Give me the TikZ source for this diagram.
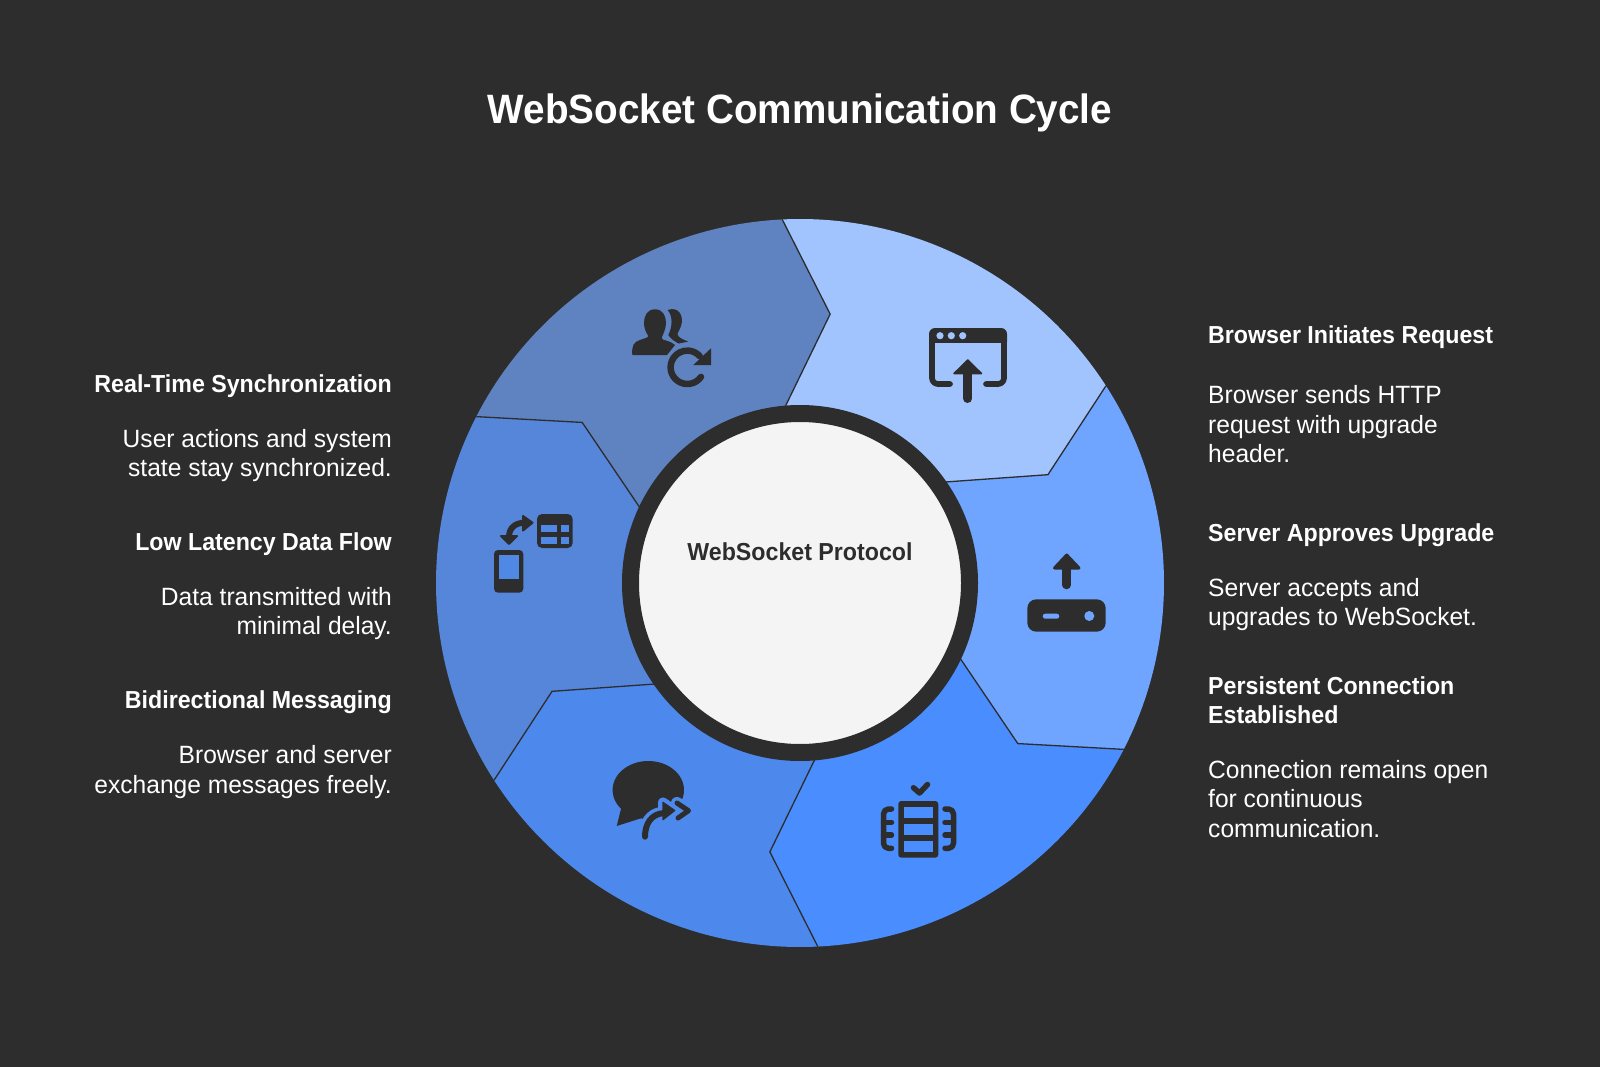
\documentclass[tikz,border=0pt]{standalone}
\usepackage{fontspec}
\setmainfont[FakeStretch=0.983,BoldFeatures={FakeStretch=0.943}]{Liberation Sans}
\definecolor{bgdark}{HTML}{2D2D2D}
\definecolor{segA}{HTML}{A1C4FF}
\definecolor{segB}{HTML}{70A5FF}
\definecolor{segC}{HTML}{4A8DFF}
\definecolor{segD}{HTML}{4D89EC}
\definecolor{segE}{HTML}{5586DA}
\definecolor{segF}{HTML}{5E83C0}
\definecolor{hubfill}{HTML}{F4F4F4}
\tikzset{
  titletext/.style={text=white,font=\fontsize{41}{48}\selectfont\bfseries,inner sep=0pt},
  headR/.style={text=white,font=\fontsize{24.6}{29.5}\selectfont\bfseries,align=left,anchor=west,inner sep=0pt},
  bodyR/.style={text=white,font=\fontsize{25}{29.5}\selectfont,align=left,anchor=west,inner sep=0pt},
  headL/.style={text=white,font=\fontsize{24.6}{29.5}\selectfont\bfseries,align=right,anchor=east,inner sep=0pt},
  bodyL/.style={text=white,font=\fontsize{25}{29.5}\selectfont,align=right,anchor=east,inner sep=0pt},
  ink/.style={fill=bgdark,draw=bgdark,line join=round,line cap=round},
  inkline/.style={draw=bgdark,line join=round,line cap=round},
}
\begin{document}
\begin{tikzpicture}[x=1pt,y=-1pt]
\path[fill=bgdark,use as bounding box] (0,0) rectangle (1600,1067);
\node[titletext] (title) at (800,113) {WebSocket Communication Cycle};
% ring segments
\begin{scope}[shift={(800,583)}]
\foreach \a/\c in {267.2/segA,327.2/segB,27.2/segC,87.2/segD,147.2/segE,207.2/segF}{
  \pgfmathsetmacro{\b}{\a+60}
  \pgfmathsetmacro{\am}{\a+9.2}
  \pgfmathsetmacro{\bm}{\b+9.2}
  \pgfmathsetmacro{\ai}{\a-2}
  \pgfmathsetmacro{\bi}{\b-2}
  \fill[\c] (\a:364) arc[start angle=\a,end angle=\b,radius=364] -- (\bm:270.6) -- (\bi:177) -- (\ai:177) -- (\am:270.6) -- cycle;
}
\foreach \a in {267.2,327.2,27.2,87.2,147.2,207.2}{
  \pgfmathsetmacro{\am}{\a+9.2}
  \pgfmathsetmacro{\ai}{\a-2}
  \draw[bgdark,line width=1.3,line join=miter] (\a:364) -- (\am:270.6) -- (\ai:177);
}
\end{scope}
% hub
\node[circle,draw=bgdark,fill=hubfill,line width=17,minimum size=339,inner sep=0pt] (hub) at (800,583) {};
\node[text=bgdark,font=\fontsize{24.6}{29}\selectfont\bfseries,inner sep=0pt] (hublabel) at (800,552) {WebSocket Protocol};
% icon 1: browser with upload arrow
\fill[bgdark,rounded corners=6] (929,328) rectangle (1007,348);
\fill[segA] (934.7,343) rectangle (1001.3,352);
\foreach \x in {940,951.3,962.7}{\fill[segA] (\x,335.7) circle (3.6);}
\draw[inkline,line width=5.7,rounded corners=6] (950,384) -- (932,384) -- (932,334);
\draw[inkline,line width=5.7,rounded corners=6] (986,384) -- (1004,384) -- (1004,334);
\draw[ink,line width=1.5] (967.7,360) -- (981.5,373.5) -- (954,373.5) -- cycle;
\draw[inkline,line width=9] (967.7,372) -- (967.7,398.5);
% icon 2: users with refresh
\fill[bgdark] (667.5,310) .. controls (679,306) and (683,316) .. (681.7,323) .. controls (681,328) and (678,332) .. (677.5,334) .. controls (678,338) and (683,339) .. (688,341.7) -- (678.5,343.5) .. controls (674,341) and (671,339) .. (668.3,335) .. controls (672,328) and (673.5,316) .. (667.5,310) -- cycle;
\fill[bgdark] (655,309.3) .. controls (663,309.3) and (666,316) .. (666,323) .. controls (666,330) and (662,336) .. (661.7,338) .. controls (662,341) and (670,340) .. (675,345) -- (667,355) -- (632.3,355) .. controls (631.5,345) and (634,342) .. (640,340) .. controls (645,338) and (648,338) .. (648.3,336) .. controls (646,332) and (644,329) .. (644,323) .. controls (644,316) and (647,309.3) .. (655,309.3) -- cycle;
\draw[inkline,line width=6.5] (687.3,367.3) ++(35:16.7) arc[start angle=35,end angle=318,radius=16.7];
\fill[bgdark] (711,348.3) -- (711,365) -- (693.3,365) -- cycle;
% icon 3: phone and table
\fill[bgdark,rounded corners=4] (494,550) rectangle (523.3,592.7);
\fill[segE!35!segD] (498.7,555) rectangle (518.7,579.3);
\fill[bgdark,rounded corners=5] (537,514) rectangle (572.7,548);
\fill[segE!35!segD] (541.3,525) rectangle (557,532.3);
\fill[segE!35!segD] (561,525) rectangle (568.7,532.3);
\fill[segE!35!segD] (541.3,536.7) rectangle (557,544);
\fill[segE!35!segD] (561,536.7) rectangle (568.7,544);
\draw[inkline,line width=6] (525,522.7) .. controls (515,522.7) and (509,528) .. (509,537);
\draw[ink,line width=2] (523,516) -- (532.5,522.7) -- (523,530.5) -- cycle;
\draw[ink,line width=2] (501,536) -- (517,536) -- (509,544) -- cycle;
% icon 4: speech bubble with forward arrow
\fill[bgdark] (648.3,790) ellipse [x radius=35.7,y radius=29];
\fill[bgdark] (622,805) -- (616.7,826) -- (645,817) -- (650,805) -- cycle;
\draw[segD,line width=13,line cap=round] (645,836.7) .. controls (645,824) and (651,814) .. (662,813.5);
\draw[segD,line width=10,line join=round] (663,802.5) -- (674.5,810.5) -- (663,819.5) -- cycle;
\draw[segD,line width=12,line join=round,line cap=round] (677,803) -- (688.5,810.7) -- (678,818);
\draw[inkline,line width=6] (645,836.7) .. controls (645,824) and (651,814) .. (664,813);
\draw[ink,line width=1.5] (663,802.5) -- (674.5,810.5) -- (663,819.5) -- cycle;
\draw[inkline,line width=5] (677,803) -- (688.5,810.7) -- (678,818);
% icon 5: checklist / film
\draw[inkline,line width=5.5] (913.5,787.7) -- (919.5,793) -- (927.5,784.5);
\fill[bgdark,rounded corners=3] (898.3,801) rectangle (938.3,857.7);
\fill[segC] (904.3,807.3) rectangle (932.7,817.7);
\fill[segC] (904.3,824) rectangle (932.7,835);
\fill[segC] (904.3,841) rectangle (932.7,851.7);
\draw[inkline,line width=5.5,rounded corners=5] (891.5,809) -- (883.5,809) -- (883.5,848.3) -- (891.5,848.3);
\draw[inkline,line width=5.5] (883.5,822.3) -- (891.5,822.3) (883.5,835) -- (891.5,835);
\draw[inkline,line width=5.5,rounded corners=5] (945,809) -- (953.5,809) -- (953.5,848.3) -- (945,848.3);
\draw[inkline,line width=5.5] (953.5,822.3) -- (945,822.3) (953.5,835) -- (945,835);
% icon 6: router with upload arrow
\draw[ink,line width=3] (1066.7,555) -- (1054.5,568) -- (1079,568) -- cycle;
\draw[inkline,line width=8.5] (1066.7,566) -- (1066.7,585);
\fill[bgdark,rounded corners=9] (1027.3,599.3) rectangle (1105.7,631.7);
\fill[segB,rounded corners=2.5] (1042.7,613.7) rectangle (1059.3,618.7);
\fill[segB] (1089.3,616) circle (5);
% right texts
\node[headR] (h1) at (1208,336.7) {Browser Initiates Request};
\node[bodyR] (b1) at (1208,424.5) {Browser sends HTTP\\request with upgrade\\header.};
\node[headR] (h2) at (1208,534.7) {Server Approves Upgrade};
\node[bodyR] (b2) at (1208,604.5) {Server accepts and\\upgrades to WebSocket.};
\node[headR] (h3) at (1208,700) {Persistent Connection\\Established};
\node[bodyR] (b3) at (1208,799) {Connection remains open\\for continuous\\communication.};
% left texts
\node[headL] (h6) at (392,385.7) {Real-Time Synchronization};
\node[bodyL] (b6) at (392,455.6) {User actions and system\\state stay synchronized.};
\node[headL] (h5) at (392,543.8) {Low Latency Data Flow};
\node[bodyL] (b5) at (392,613.7) {Data transmitted with\\minimal delay.};
\node[headL] (h4) at (392,702) {Bidirectional Messaging};
\node[bodyL] (b4) at (392,772) {Browser and server\\exchange messages freely.};
\end{tikzpicture}
\end{document}
